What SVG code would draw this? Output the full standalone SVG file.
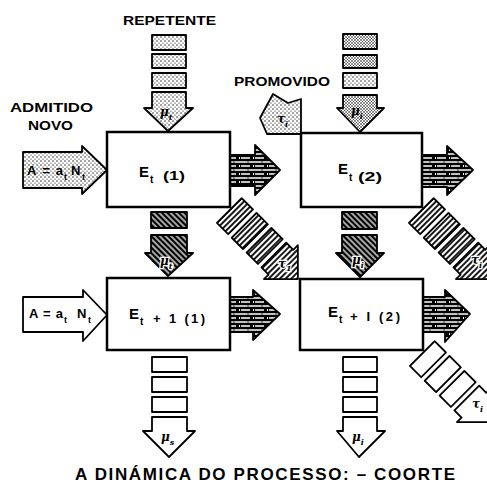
<svg xmlns="http://www.w3.org/2000/svg" width="487" height="483" viewBox="0 0 487 483">
<style>
.lbl{font-family:"Liberation Sans",Arial,sans-serif;font-weight:bold;fill:#000}
.box{fill:#fff;stroke:#000;stroke-width:2.5}
.stip{fill:url(#stip);stroke:#000;stroke-width:1.8;stroke-linejoin:round}
.stip2{fill:url(#stip2);stroke:#000;stroke-width:1.8;stroke-linejoin:round}
.hat{fill:url(#hat);stroke:#000;stroke-width:1.8;stroke-linejoin:round}
.brick{fill:url(#brick);stroke:#000;stroke-width:1.8;stroke-linejoin:round}
.chain{fill:url(#chain);stroke:#000;stroke-width:1.8;stroke-linejoin:round}
.wht{fill:#fff;stroke:#000;stroke-width:1.8;stroke-linejoin:round}
.mu{font-family:"DejaVu Serif","Liberation Serif",serif;font-style:italic;font-weight:bold;fill:#000}
.muw{font-family:"DejaVu Serif","Liberation Serif",serif;font-style:italic;font-weight:bold;fill:#000;stroke:#fff;stroke-width:2.5;paint-order:stroke}
</style>
<defs>
<pattern id="stip" width="4" height="4" patternUnits="userSpaceOnUse">
<rect width="4" height="4" fill="#fff"/>
<circle cx="1" cy="1" r="0.7" fill="#000"/>
<circle cx="3" cy="3" r="0.6" fill="#000"/>
</pattern>
<pattern id="stip2" width="3" height="3" patternUnits="userSpaceOnUse">
<rect width="3" height="3" fill="#fff"/>
<circle cx="1" cy="1" r="0.8" fill="#000"/>
<circle cx="2.5" cy="2.5" r="0.5" fill="#000"/>
</pattern>
<pattern id="hat" width="4" height="4" patternUnits="userSpaceOnUse" patternTransform="rotate(45)">
<rect width="4" height="4" fill="#000"/>
<line x1="0" y1="2" x2="4" y2="2" stroke="#fff" stroke-width="1.3"/>
</pattern>
<pattern id="chain" width="4" height="4" patternUnits="userSpaceOnUse">
<rect width="4" height="4" fill="#fff"/>
<line x1="2" y1="0" x2="2" y2="4" stroke="#000" stroke-width="1.8"/>
</pattern>
<pattern id="brick" width="14" height="8" patternUnits="userSpaceOnUse">
<rect width="14" height="8" fill="#000"/>
<path d="M0 2h9M11 2h3M3 6h9" stroke="#fff" stroke-width="1.4"/>
<path d="M10 1v2M1.5 5v2" stroke="#fff" stroke-width="1"/>
</pattern>
</defs>

<!-- titles -->
<text class="lbl" x="123" y="25" font-size="12" textLength="93" lengthAdjust="spacingAndGlyphs">REPETENTE</text>
<text class="lbl" x="10" y="112" font-size="12" textLength="83" lengthAdjust="spacingAndGlyphs">ADMITIDO</text>
<text class="lbl" x="28" y="130" font-size="12" textLength="45" lengthAdjust="spacingAndGlyphs">NOVO</text>
<text class="lbl" x="234" y="86" font-size="12" textLength="96" lengthAdjust="spacingAndGlyphs">PROMOVIDO</text>
<text class="lbl" x="75" y="480" font-size="17" textLength="380" lengthAdjust="spacing">A DINÁMICA DO PROCESSO: – COORTE</text>

<g id="connectors">
<!-- column 1 top: repetente -->
<g id="rep1">
<rect class="stip" x="152" y="35" width="34" height="15"/>
<rect class="stip" x="152" y="54" width="34" height="14"/>
<rect class="stip" x="152" y="73" width="34" height="15"/>
<polygon class="stip" points="152,92 186,92 186,108 193,108 168,131 144,108 152,108"/>
<text class="mu" x="160" y="116" font-size="12">μ<tspan dy="4" font-size="8">t</tspan></text>
</g>
<!-- column 2 top -->
<g id="rep2">
<rect class="stip2" x="343" y="34" width="34" height="15"/>
<rect class="stip2" x="343" y="55" width="34" height="13"/>
<rect class="stip" x="343" y="73" width="34" height="15"/>
<polygon class="stip2" points="343,95 377,95 377,108 384,108 360,132 337,108 343,108"/>
<text class="mu" x="351" y="115" font-size="12">μ<tspan dy="4" font-size="8">i</tspan></text>
</g>
<!-- promovido -->
<g id="prom">
<polygon class="stip" points="260,118 273,94 288,103 301,99 301,134 267,134"/>
<text class="mu" x="277" y="123" font-size="12">τ<tspan dy="4" font-size="8">i</tspan></text>
</g>
<!-- admitted arrows -->
<g id="adm1">
<polygon class="stip" points="23,152 82,152 82,146 107,170 82,194 82,188 23,188"/>
<text class="lbl" x="27" y="175" font-size="13" textLength="36" lengthAdjust="spacing">A=a</text>
<text class="lbl" x="64" y="180" font-size="9">t</text>
<text class="lbl" x="71" y="175" font-size="13">N</text>
<text class="lbl" x="82" y="180" font-size="9">t</text>
</g>
<g id="adm2">
<polygon class="wht" points="23,297 83,297 83,290 107,315 83,341 83,332 23,332"/>
<text class="lbl" x="29" y="318" font-size="13" textLength="34" lengthAdjust="spacing">A = a</text>
<text class="lbl" x="64" y="323" font-size="9">t</text>
<text class="lbl" x="77" y="318" font-size="13">N</text>
<text class="lbl" x="88" y="323" font-size="9">t</text>
</g>
<!-- right brick arrows -->
<polygon class="brick" points="230,155 255,155 255,145 280,170 255,195 255,186 230,186"/>
<polygon class="brick" points="422,155 447,155 447,146 473,170 447,195 447,187 422,187"/>
<polygon class="brick" points="230,297 253,297 253,290 280,314 253,340 253,332 230,332"/>
<polygon class="brick" points="423,297 445,297 445,290 470,314 445,342 445,332 423,332"/>
<!-- column 1 middle -->
<g id="mid1">
<rect class="hat" x="151" y="212" width="36" height="16"/>
<polygon class="hat" points="151,235 187,235 187,253 193,253 168,276 145,253 151,253"/>
<text class="muw" x="160" y="265" font-size="12">μ<tspan dy="4" font-size="8">t</tspan></text>
</g>
<g id="mid2">
<rect class="hat" x="342" y="212" width="35" height="17"/>
<polygon class="hat" points="342,235 377,235 377,253 384,253 360,277 336,253 342,253"/>
<text class="muw" x="352" y="264" font-size="12">μ<tspan dy="4" font-size="8">i</tspan></text>
</g>
<!-- bottom columns -->
<g id="bot1">
<rect class="wht" x="152" y="357" width="35" height="15"/>
<rect class="wht" x="152" y="377" width="35" height="15"/>
<rect class="wht" x="152" y="397" width="35" height="15"/>
<polygon class="wht" points="152,417 187,417 187,431 195,431 169,457 143,431 152,431"/>
<text class="mu" x="161" y="441" font-size="12">μ<tspan dy="4" font-size="8">s</tspan></text>
</g>
<g id="bot2">
<rect class="wht" x="343" y="357" width="34" height="15"/>
<rect class="wht" x="343" y="377" width="34" height="15"/>
<rect class="wht" x="343" y="397" width="34" height="15"/>
<polygon class="wht" points="343,417 377,417 377,431 385,431 359,457 337,431 343,431"/>
<text class="mu" x="352" y="441" font-size="12">μ<tspan dy="4" font-size="8">i</tspan></text>
</g>
<!-- diagonal chains -->
<g id="chain1" transform="translate(230,207) rotate(45)">
<rect class="chain" x="2" y="-14.5" width="16" height="35"/>
<rect class="chain" x="23" y="-14.5" width="16" height="35"/>
<rect class="chain" x="44" y="-14.5" width="16" height="35"/>
<polygon class="chain" points="65,-14.5 75,-14.5 75,-21 99,3 75,27 75,20.5 65,20.5"/>
</g>
<text class="muw" x="278" y="268" font-size="12">τ<tspan dy="3" font-size="8">1</tspan></text>
<g id="chain2" transform="translate(422,207) rotate(45)">
<rect class="chain" x="2" y="-14.5" width="16" height="35"/>
<rect class="chain" x="23" y="-14.5" width="16" height="35"/>
<rect class="chain" x="44" y="-14.5" width="16" height="35"/>
<polygon class="chain" points="65,-14.5 75,-14.5 75,-21 99,3 75,27 75,20.5 65,20.5"/>
</g>
<text class="muw" x="471" y="264" font-size="12">τ<tspan dy="4" font-size="8">i</tspan></text>
<g id="chain3" transform="translate(423,350) rotate(45)">
<rect class="wht" x="2" y="-14.5" width="16" height="35"/>
<rect class="wht" x="23" y="-14.5" width="16" height="35"/>
<rect class="wht" x="44" y="-14.5" width="16" height="35"/>
<polygon class="wht" points="65,-14.5 75,-14.5 75,-21 99,3 75,27 75,20.5 65,20.5"/>
</g>
<text class="mu" x="472" y="408" font-size="12">τ<tspan dy="4" font-size="8">i</tspan></text>
</g>

<!-- boxes -->
<g id="box1">
<rect class="box" x="107" y="132" width="123" height="75"/>
<text class="lbl" x="139" y="177" font-size="15">E</text>
<text class="lbl" x="150" y="183" font-size="10">t</text>
<text class="lbl" x="163" y="180" font-size="12" textLength="22" lengthAdjust="spacingAndGlyphs">(1)</text>
</g>
<g id="box2">
<rect class="box" x="301" y="133" width="121" height="74"/>
<text class="lbl" x="338" y="174" font-size="15">E</text>
<text class="lbl" x="349" y="181" font-size="10">t</text>
<text class="lbl" x="358" y="181" font-size="12" textLength="24" lengthAdjust="spacingAndGlyphs">(2)</text>
</g>
<g id="box3">
<rect class="box" x="107" y="278" width="123" height="72"/>
<text class="lbl" x="129" y="319" font-size="15">E</text>
<text class="lbl" x="140" y="325" font-size="10">t</text>
<text class="lbl" x="153" y="323" font-size="13" textLength="52" lengthAdjust="spacing">+ 1 (1)</text>
</g>
<g id="box4">
<rect class="box" x="300" y="279" width="123" height="71"/>
<text class="lbl" x="328" y="317" font-size="15">E</text>
<text class="lbl" x="339" y="323" font-size="10">t</text>
<text class="lbl" x="350" y="321" font-size="13" textLength="50" lengthAdjust="spacing">+ I (2)</text>
</g>
</svg>
